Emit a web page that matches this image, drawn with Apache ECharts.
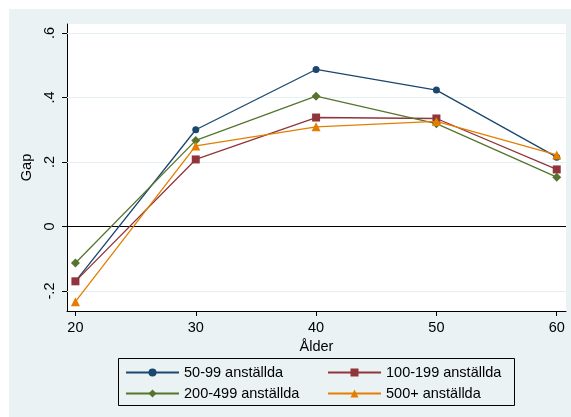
<!DOCTYPE html>
<html><head><meta charset="utf-8">
<script src="https://cdn.jsdelivr.net/npm/echarts@6/dist/echarts.min.js"></script>
<style>html,body{margin:0;padding:0;background:#fff}#c{width:571px;height:417px}</style>
</head><body><div id="c"></div>
<script>
const ages = [20, 30, 40, 50, 60];
const s50_99 = [-0.170, 0.300, 0.487, 0.423, 0.215];
const s100_199 = [-0.170, 0.208, 0.338, 0.335, 0.177];
const s200_499 = [-0.113, 0.267, 0.404, 0.319, 0.153];
const s500 = [-0.233, 0.250, 0.309, 0.326, 0.222];
const seriesNames = ['50-99 anställda', '100-199 anställda', '200-499 anställda', '500+ anställda'];
const yTicks = [-0.2, 0, 0.2, 0.4, 0.6];
const yGrid = [-0.2, 0.2, 0.4, 0.6];
const xTicks = [20, 30, 40, 50, 60];

const colors = ['#1a476f', '#90353b', '#55752f', '#e37e00'];
const symbols = ['circle', 'rect', 'diamond', 'triangle'];
const sizes = [7, 8, 9, 9];
const dataSets = [s50_99, s100_199, s200_499, s500];
const font = 'Liberation Sans, Arial, sans-serif';

function fmt(v) {
  if (Math.abs(v) < 1e-9) return '0';
  const s = (Math.round(v * 10) / 10).toString();
  return s.replace('0.', '.');
}

const series = dataSets.map((d, i) => ({
  name: seriesNames[i],
  type: 'line',
  data: ages.map((a, j) => [a, d[j]]),
  symbol: symbols[i],
  symbolSize: sizes[i],
  lineStyle: { color: colors[i], width: 1.3 },
  itemStyle: { color: colors[i] },
  z: 5 + i,
  animation: false
}));
series.push({
  type: 'line', data: [], silent: true, z: 1,
  markLine: {
    silent: true, symbol: 'none', animation: false,
    label: { show: false },
    data: yGrid.map(v => ({ yAxis: v, lineStyle: { color: '#e6eff1', width: 1.2, type: 'solid' } }))
      .concat([{ yAxis: 0, lineStyle: { color: '#000', width: 1, type: 'solid' } }])
  }
});

const chart = echarts.init(document.getElementById('c'));
chart.setOption({
  backgroundColor: '#fff',
  animation: false,
  graphic: [
    { type: 'rect', shape: { x: 9, y: 9, width: 562, height: 408 }, style: { fill: '#eaf2f3' }, z: -10 },
    { type: 'rect', shape: { x: 118.5, y: 358.5, width: 396, height: 47 }, style: { fill: 'none', stroke: '#000', lineWidth: 1 }, z: 10 }
  ],
  grid: { left: 67, top: 24, right: 5, bottom: 106, containLabel: false, show: true, backgroundColor: '#fff', borderWidth: 0 },
  xAxis: {
    type: 'value', min: 19.3, max: 60.77,
    name: 'Ålder', nameLocation: 'middle', nameGap: 21,
    nameTextStyle: { fontFamily: font, fontSize: 14.5, color: '#000' },
    axisLine: { show: true, onZero: false, lineStyle: { color: '#000', width: 1 } },
    axisTick: { show: true, customValues: xTicks, length: 5, lineStyle: { color: '#000' } },
    axisLabel: { customValues: xTicks, margin: 9, fontFamily: font, fontSize: 14.5, color: '#000' },
    splitLine: { show: false }
  },
  yAxis: {
    type: 'value', min: -0.262, max: 0.628,
    name: 'Gap', nameLocation: 'middle', nameGap: 27, nameRotate: 90,
    nameTextStyle: { fontFamily: font, fontSize: 14.5, color: '#000' },
    axisLine: { show: true, onZero: false, lineStyle: { color: '#000', width: 1 } },
    axisTick: { show: true, customValues: yTicks, length: 5, lineStyle: { color: '#000' } },
    axisLabel: { customValues: yTicks, rotate: 90, margin: 10, fontFamily: font, fontSize: 14.5, color: '#000', formatter: fmt },
    splitLine: { show: false }
  },
  legend: [
    {
      orient: 'vertical', left: 125, top: 365, padding: 0, itemGap: 6, itemWidth: 53, itemHeight: 10,
      data: [seriesNames[0], seriesNames[2]],
      textStyle: { fontFamily: font, fontSize: 14.5, color: '#000' }, selectedMode: false
    },
    {
      orient: 'vertical', left: 327, top: 365, padding: 0, itemGap: 6, itemWidth: 53, itemHeight: 10,
      data: [seriesNames[1], seriesNames[3]],
      textStyle: { fontFamily: font, fontSize: 14.5, color: '#000' }, selectedMode: false
    }
  ],
  series: series
});
</script></body></html>
